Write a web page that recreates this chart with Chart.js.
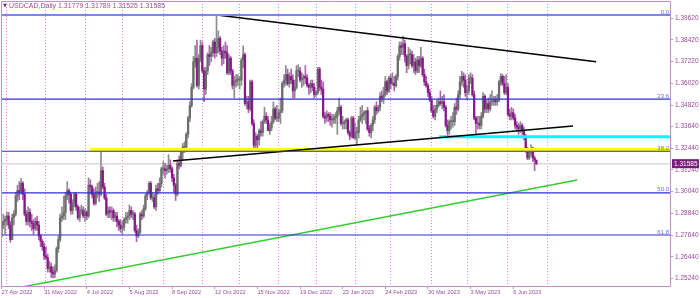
<!DOCTYPE html>
<html><head><meta charset="utf-8">
<script src="https://cdn.jsdelivr.net/npm/chart.js@4/dist/chart.umd.min.js"></script>
<style>html,body{margin:0;padding:0;background:#fff;overflow:hidden}#wrap{width:700px;height:298px;position:relative}</style>
</head><body><div id="wrap"><canvas id="c" width="700" height="298"></canvas></div>
<script>
const symbolName = 'USDCAD,Daily';
const openP = [
1.2760,1.2820,1.2840,1.2850,1.2870,1.2820,1.2740,1.2860,1.2880,1.2980,
1.3010,1.3000,1.3050,1.2990,1.2880,1.2840,1.2890,1.2840,1.2830,1.2800,
1.2840,1.2820,1.2760,1.2730,1.2700,1.2650,1.2640,1.2580,1.2590,1.2560,
1.2550,1.2570,1.2690,1.2740,1.2860,1.2870,1.2890,1.2980,1.3010,1.2990,
1.2900,1.2940,1.2990,1.2920,1.2860,1.2900,1.2900,1.2870,1.2890,1.2870,
1.3040,1.3030,1.2990,1.2940,1.3000,1.3000,1.2990,1.3120,1.3030,1.2970,
1.2880,1.2900,1.2890,1.2900,1.2860,1.2870,1.2840,1.2820,1.2800,1.2810,
1.2850,1.2860,1.2870,1.2900,1.2880,1.2880,1.2790,1.2760,1.2780,1.2880,
1.2870,1.2910,1.2980,1.3000,1.3050,1.2970,1.2970,1.2920,1.3020,1.3010,
1.3050,1.3130,1.3130,1.3120,1.3130,1.3150,1.3130,1.3080,1.3040,1.2990,
1.3160,1.3150,1.3220,1.3250,1.3250,1.3320,1.3410,1.3480,1.3580,1.3720,
1.3740,1.3590,1.3740,1.3810,1.3670,1.3570,1.3670,1.3760,1.3750,1.3770,
1.3830,1.3770,1.3800,1.3850,1.3780,1.3740,1.3780,1.3770,1.3660,1.3740,
1.3670,1.3590,1.3610,1.3620,1.3620,1.3620,1.3730,1.3760,1.3490,1.3500,
1.3460,1.3610,1.3380,1.3260,1.3310,1.3290,1.3340,1.3330,1.3390,1.3420,
1.3400,1.3340,1.3360,1.3390,1.3460,1.3410,1.3410,1.3440,1.3450,1.3600,
1.3620,1.3650,1.3600,1.3640,1.3620,1.3560,1.3580,1.3670,1.3670,1.3620,
1.3630,1.3640,1.3630,1.3590,1.3580,1.3600,1.3580,1.3540,1.3550,1.3680,
1.3580,1.3570,1.3420,1.3410,1.3430,1.3420,1.3400,1.3400,1.3410,1.3420,
1.3450,1.3470,1.3380,1.3380,1.3390,1.3400,1.3330,1.3310,1.3410,1.3300,
1.3330,1.3330,1.3400,1.3420,1.3430,1.3440,1.3450,1.3350,1.3330,1.3370,
1.3400,1.3470,1.3450,1.3470,1.3530,1.3520,1.3540,1.3610,1.3560,1.3630,
1.3600,1.3600,1.3590,1.3640,1.3750,1.3810,1.3800,1.3820,1.3750,1.3700,
1.3760,1.3760,1.3700,1.3720,1.3670,1.3730,1.3700,1.3740,1.3650,1.3610,
1.3590,1.3550,1.3510,1.3450,1.3420,1.3460,1.3480,1.3500,1.3490,1.3500,
1.3470,1.3370,1.3340,1.3390,1.3390,1.3390,1.3470,1.3460,1.3540,1.3610,
1.3640,1.3620,1.3550,1.3560,1.3630,1.3630,1.3540,1.3410,1.3380,1.3380,
1.3370,1.3420,1.3530,1.3460,1.3490,1.3460,1.3500,1.3500,1.3510,1.3500,
1.3510,1.3610,1.3640,1.3600,1.3550,1.3580,1.3430,1.3420,1.3440,1.3410,
1.3370,1.3360,1.3350,1.3370,1.3340,1.3310,1.3240,1.3190,1.3220,1.3240,
1.3190,1.31779];
const highP = [
1.2840,1.2880,1.2870,1.2890,1.2890,1.2840,1.2880,1.2900,1.3000,1.3040,
1.3060,1.3077,1.3060,1.3020,1.2900,1.2920,1.2910,1.2880,1.2850,1.2860,
1.2870,1.2840,1.2770,1.2740,1.2720,1.2700,1.2660,1.2620,1.2610,1.2590,
1.2600,1.2700,1.2760,1.2880,1.2920,1.2980,1.3000,1.3060,1.3020,1.3000,
1.2960,1.3000,1.3000,1.2930,1.2920,1.2930,1.2920,1.2910,1.2900,1.3080,
1.3070,1.3040,1.3020,1.3030,1.3050,1.3060,1.3224,1.3140,1.3050,1.2990,
1.2920,1.2920,1.2920,1.2910,1.2890,1.2890,1.2850,1.2850,1.2840,1.2860,
1.2890,1.2890,1.2930,1.2920,1.2900,1.2890,1.2820,1.2800,1.2890,1.2900,
1.2930,1.2990,1.3010,1.3060,1.3060,1.3000,1.2990,1.3040,1.3050,1.3080,
1.3140,1.3170,1.3160,1.3150,1.3208,1.3180,1.3140,1.3100,1.3050,1.3180,
1.3200,1.3230,1.3270,1.3280,1.3330,1.3420,1.3500,1.3600,1.3750,1.3810,
1.3840,1.3760,1.3840,1.3830,1.3690,1.3690,1.3770,1.3810,1.3800,1.3840,
1.3850,1.3977,1.3890,1.3860,1.3800,1.3810,1.3830,1.3810,1.3760,1.3750,
1.3680,1.3640,1.3650,1.3650,1.3640,1.3740,1.3808,1.3770,1.3530,1.3530,
1.3620,1.3620,1.3400,1.3330,1.3320,1.3350,1.3390,1.3400,1.3470,1.3440,
1.3420,1.3380,1.3420,1.3500,1.3470,1.3480,1.3460,1.3520,1.3610,1.3650,
1.3700,1.3680,1.3660,1.3680,1.3650,1.3620,1.3700,1.3705,1.3690,1.3660,
1.3650,1.3700,1.3650,1.3600,1.3620,1.3620,1.3600,1.3560,1.3690,1.3690,
1.3620,1.3610,1.3440,1.3450,1.3440,1.3440,1.3430,1.3430,1.3440,1.3470,
1.3520,1.3480,1.3420,1.3400,1.3410,1.3410,1.3340,1.3420,1.3420,1.3380,
1.3360,1.3420,1.3470,1.3480,1.3450,1.3450,1.3470,1.3370,1.3380,1.3420,
1.3480,1.3500,1.3480,1.3550,1.3560,1.3580,1.3640,1.3620,1.3640,1.3650,
1.3660,1.3640,1.3650,1.3760,1.3830,1.3830,1.3862,1.3840,1.3760,1.3800,
1.3790,1.3780,1.3760,1.3740,1.3750,1.3750,1.3800,1.3750,1.3680,1.3640,
1.3600,1.3570,1.3530,1.3480,1.3480,1.3510,1.3520,1.3560,1.3530,1.3540,
1.3480,1.3400,1.3400,1.3420,1.3440,1.3490,1.3520,1.3560,1.3640,1.3668,
1.3660,1.3650,1.3590,1.3650,1.3660,1.3650,1.3560,1.3420,1.3420,1.3420,
1.3440,1.3550,1.3540,1.3510,1.3520,1.3540,1.3560,1.3530,1.3530,1.3540,
1.3620,1.3655,1.3650,1.3640,1.3650,1.3600,1.3460,1.3470,1.3460,1.3430,
1.3390,1.3380,1.3390,1.3380,1.3360,1.3320,1.3250,1.3240,1.3262,1.3250,
1.3200,1.31789];
const lowP = [
1.2750,1.2800,1.2770,1.2820,1.2800,1.2725,1.2740,1.2820,1.2870,1.2950,
1.2960,1.2990,1.2960,1.2870,1.2820,1.2820,1.2810,1.2790,1.2770,1.2790,
1.2790,1.2740,1.2700,1.2680,1.2630,1.2630,1.2560,1.2560,1.2530,1.2528,
1.2530,1.2560,1.2670,1.2730,1.2840,1.2850,1.2850,1.2960,1.2940,1.2880,
1.2880,1.2920,1.2900,1.2850,1.2840,1.2880,1.2860,1.2840,1.2850,1.2860,
1.2990,1.2970,1.2930,1.2930,1.2970,1.2950,1.2980,1.3020,1.2960,1.2870,
1.2860,1.2860,1.2850,1.2840,1.2840,1.2810,1.2790,1.2780,1.2770,1.2790,
1.2830,1.2830,1.2850,1.2860,1.2850,1.2780,1.2728,1.2750,1.2770,1.2850,
1.2860,1.2900,1.2960,1.2990,1.2960,1.2950,1.2910,1.2900,1.2990,1.3000,
1.3030,1.3100,1.3080,1.3100,1.3110,1.3110,1.3060,1.3000,1.2955,1.2980,
1.3130,1.3140,1.3180,1.3220,1.3240,1.3300,1.3390,1.3470,1.3570,1.3690,
1.3580,1.3570,1.3720,1.3660,1.3500,1.3540,1.3650,1.3700,1.3720,1.3750,
1.3740,1.3750,1.3770,1.3760,1.3700,1.3710,1.3740,1.3650,1.3650,1.3650,
1.3570,1.3520,1.3580,1.3590,1.3570,1.3590,1.3690,1.3480,1.3460,1.3440,
1.3450,1.3370,1.3230,1.3240,1.3225,1.3260,1.3310,1.3310,1.3380,1.3380,
1.3340,1.3320,1.3340,1.3380,1.3400,1.3390,1.3390,1.3380,1.3440,1.3580,
1.3590,1.3590,1.3580,1.3600,1.3520,1.3520,1.3570,1.3640,1.3610,1.3580,
1.3590,1.3600,1.3580,1.3540,1.3550,1.3560,1.3520,1.3530,1.3540,1.3560,
1.3540,1.3410,1.3380,1.3390,1.3390,1.3370,1.3360,1.3380,1.3380,1.3320,
1.3430,1.3370,1.3350,1.3350,1.3350,1.3320,1.3290,1.3300,1.3300,1.3290,
1.3262,1.3300,1.3390,1.3380,1.3400,1.3380,1.3340,1.3310,1.3300,1.3340,
1.3380,1.3430,1.3440,1.3450,1.3500,1.3490,1.3530,1.3540,1.3550,1.3570,
1.3590,1.3560,1.3580,1.3620,1.3730,1.3760,1.3760,1.3720,1.3660,1.3680,
1.3710,1.3690,1.3660,1.3650,1.3660,1.3660,1.3690,1.3640,1.3590,1.3580,
1.3530,1.3500,1.3440,1.3410,1.3400,1.3440,1.3470,1.3480,1.3460,1.3450,
1.3360,1.3300,1.3320,1.3350,1.3360,1.3370,1.3430,1.3450,1.3520,1.3590,
1.3580,1.3530,1.3510,1.3540,1.3600,1.3530,1.3400,1.3315,1.3350,1.3350,
1.3350,1.3410,1.3440,1.3440,1.3440,1.3450,1.3480,1.3480,1.3480,1.3480,
1.3500,1.3590,1.3590,1.3540,1.3540,1.3420,1.3400,1.3400,1.3400,1.3350,
1.3340,1.3320,1.3330,1.3320,1.3290,1.3220,1.3180,1.3180,1.3200,1.3170,
1.3120,1.31525];
const closeP = [
1.2820,1.2840,1.2850,1.2870,1.2820,1.2740,1.2860,1.2880,1.2980,1.3010,
1.3000,1.3050,1.2990,1.2880,1.2840,1.2890,1.2840,1.2830,1.2800,1.2840,
1.2820,1.2760,1.2730,1.2700,1.2650,1.2640,1.2580,1.2590,1.2560,1.2550,
1.2570,1.2690,1.2740,1.2860,1.2870,1.2890,1.2980,1.3010,1.2990,1.2900,
1.2940,1.2990,1.2920,1.2860,1.2900,1.2900,1.2870,1.2890,1.2870,1.3040,
1.3030,1.2990,1.2940,1.3000,1.3000,1.2990,1.3120,1.3030,1.2970,1.2880,
1.2900,1.2890,1.2900,1.2860,1.2870,1.2840,1.2820,1.2800,1.2810,1.2850,
1.2860,1.2870,1.2900,1.2880,1.2880,1.2790,1.2760,1.2780,1.2880,1.2870,
1.2910,1.2980,1.3000,1.3050,1.2970,1.2970,1.2920,1.3020,1.3010,1.3050,
1.3130,1.3130,1.3120,1.3130,1.3150,1.3130,1.3080,1.3040,1.2990,1.3160,
1.3150,1.3220,1.3250,1.3250,1.3320,1.3410,1.3480,1.3580,1.3720,1.3740,
1.3590,1.3740,1.3810,1.3670,1.3570,1.3670,1.3760,1.3750,1.3770,1.3830,
1.3770,1.3800,1.3850,1.3780,1.3740,1.3780,1.3770,1.3660,1.3740,1.3670,
1.3590,1.3610,1.3620,1.3620,1.3620,1.3730,1.3760,1.3490,1.3500,1.3460,
1.3610,1.3380,1.3260,1.3310,1.3290,1.3340,1.3330,1.3390,1.3420,1.3400,
1.3340,1.3360,1.3390,1.3460,1.3410,1.3410,1.3440,1.3450,1.3600,1.3620,
1.3650,1.3600,1.3640,1.3620,1.3560,1.3580,1.3670,1.3670,1.3620,1.3630,
1.3640,1.3630,1.3590,1.3580,1.3600,1.3580,1.3540,1.3550,1.3680,1.3580,
1.3570,1.3420,1.3410,1.3430,1.3420,1.3400,1.3400,1.3410,1.3420,1.3450,
1.3470,1.3380,1.3380,1.3390,1.3400,1.3330,1.3310,1.3410,1.3300,1.3330,
1.3330,1.3400,1.3420,1.3430,1.3440,1.3450,1.3350,1.3330,1.3370,1.3400,
1.3470,1.3450,1.3470,1.3530,1.3520,1.3540,1.3610,1.3560,1.3630,1.3600,
1.3600,1.3590,1.3640,1.3750,1.3810,1.3800,1.3820,1.3750,1.3700,1.3760,
1.3760,1.3700,1.3720,1.3670,1.3730,1.3700,1.3740,1.3650,1.3610,1.3590,
1.3550,1.3510,1.3450,1.3420,1.3460,1.3480,1.3500,1.3490,1.3500,1.3470,
1.3370,1.3340,1.3390,1.3390,1.3390,1.3470,1.3460,1.3540,1.3610,1.3640,
1.3620,1.3550,1.3560,1.3630,1.3630,1.3540,1.3410,1.3380,1.3380,1.3370,
1.3420,1.3530,1.3460,1.3490,1.3460,1.3500,1.3500,1.3510,1.3500,1.3510,
1.3610,1.3640,1.3600,1.3550,1.3580,1.3430,1.3420,1.3440,1.3410,1.3370,
1.3360,1.3350,1.3370,1.3340,1.3310,1.3240,1.3190,1.3220,1.3240,1.3190,
1.3178,1.31585];

const dateTickIdx = [0,24,48,72,96,120,144,168,192,216,240,264,288];
const dateTickLabels = ['27 Apr 2022','31 May 2022','4 Jul 2022','5 Aug 2022','8 Sep 2022','12 Oct 2022','15 Nov 2022','19 Dec 2022','23 Jan 2023','24 Feb 2023','30 Mar 2023','3 May 2023','6 Jun 2023'];
const monthGridIdx = [3,25,47,68,91,113,134,156,177,199,219,242,262,285,307];
const priceTicks = [1.39620,1.38420,1.37220,1.36020,1.34820,1.33640,1.32440,1.31240,1.30040,1.28840,1.27640,1.26440,1.25240];
const fibLevels = [1.3978,1.3515,1.3227,1.2997,1.2765];
const fibLabels = ['0.0','23.6','38.2','50.0','61.8'];
const upperTrend = [[121.3,1.3978],[334.6,1.3721]];
const lowerTrend = [[96.5,1.3173],[321.6,1.3366]];
const greenTrend = [[11.5,1.2478],[323.9,1.3068]];
const yellowLevel = {from:49.8, price:1.3234};
const cyanLevel = {from:246.2, price:1.3307};

const XMIN = -0.28, XMAX = 376.2, YMIN = 1.24837, YMAX = 1.40558;
const n = closeP.length;
const last = n - 1;
const isUp = closeP.map((c,i)=> c >= openP[i]);

const wickData = closeP.map((c,i)=>({x:i, y:[lowP[i], highP[i]]}));
const bodyData = closeP.map((c,i)=>({x:i, y:[openP[i], c]}));

function hline(v, from){ return [{x: from===undefined?XMIN:from, y:v},{x:XMAX, y:v}]; }
function seg(p){ return [{x:p[0][0], y:p[0][1]},{x:p[1][0], y:p[1][1]}]; }

const lineBase = {type:'line', pointRadius:0, fill:false, tension:0, borderJoinStyle:'miter'};
const datasets = [];
fibLevels.forEach((v,i)=>{
  datasets.push(Object.assign({}, lineBase, {data:hline(v), borderColor: i===0?'#7b86f0':'#2f2fd6', borderWidth: i===0?2:1.2, order:1}));
});
datasets.push(Object.assign({}, lineBase, {data:seg(upperTrend), borderColor:'#000', borderWidth:1.5, order:2}));
datasets.push(Object.assign({}, lineBase, {data:seg(lowerTrend), borderColor:'#000', borderWidth:1.5, order:2}));
datasets.push(Object.assign({}, lineBase, {data:seg(greenTrend), borderColor:'#33cc33', borderWidth:1.5, order:2}));
datasets.push(Object.assign({}, lineBase, {data:hline(yellowLevel.price, yellowLevel.from), borderColor:'#ffff00', borderWidth:4, order:3}));
datasets.push(Object.assign({}, lineBase, {data:hline(cyanLevel.price, cyanLevel.from), borderColor:'#00ffff', borderWidth:3, order:3}));
datasets.push({type:'bar', data:bodyData, backgroundColor:isUp.map(u=>u?'#6c6c6c':'#86188a'), barThickness:1.6, grouped:false, minBarLength:1, borderWidth:0, order:10});
datasets.push({type:'bar', data:wickData, backgroundColor:isUp.map(u=>u?'#8c8c8c':'#b45eb4'), barThickness:1, grouped:false, borderWidth:0, order:11});
datasets.push(Object.assign({}, lineBase, {data:hline(closeP[last]), borderColor:'#d9d9d9', borderWidth:1.5, order:20}));

const FONT = 'Liberation Sans';
const TXT = '#9a4a9a';
const AXC = '#c48ec4';

function zeroPad(s){ s.paddingTop=0; s.paddingBottom=0; s.paddingLeft=0; s.paddingRight=0; }

const overlay = {
  id:'overlay',
  afterDraw(chart){
    const {ctx, chartArea:a, scales:{y}} = chart;
    ctx.save();
    ctx.strokeStyle = AXC; ctx.lineWidth = 1;
    ctx.beginPath();
    ctx.moveTo(a.left+0.5, a.bottom); ctx.lineTo(a.left+0.5, a.top+0.5); ctx.lineTo(a.right, a.top+0.5);
    ctx.stroke();
    ctx.fillStyle = '#7d2a7d';
    ctx.textBaseline = 'middle';
    ctx.font = '5px "DejaVu Sans"';
    ctx.fillText('\u25BC', 3, 6);
    ctx.fillStyle = TXT;
    ctx.font = '7px "' + FONT + '"';
    const title = symbolName + ' ' + [openP[last], highP[last], lowP[last], closeP[last]].map(v=>v.toFixed(5)).join(' ');
    ctx.fillText(title, 9, 6);
    ctx.font = '6px "' + FONT + '"';
    ctx.textAlign = 'right';
    ctx.textBaseline = 'alphabetic';
    ctx.fillStyle = '#6a6af0';
    fibLevels.forEach((v,i)=> ctx.fillText(fibLabels[i], a.right-1, y.getPixelForValue(v)-1.5));
    const py = y.getPixelForValue(closeP[last]);
    ctx.fillStyle = '#7b1b7b';
    ctx.fillRect(a.right+2, py-4.5, 27, 9);
    ctx.fillStyle = '#fff';
    ctx.textAlign = 'left';
    ctx.textBaseline = 'middle';
    ctx.font = '6.5px "' + FONT + '"';
    ctx.fillText(closeP[last].toFixed(5), a.right+4, py+0.5);
    ctx.restore();
  }
};

new Chart(document.getElementById('c'), {
  type:'bar',
  data:{datasets},
  plugins:[overlay],
  options:{
    responsive:false, devicePixelRatio:1, animation:false, events:[],
    layout:{padding:{left:1, top:1, right:0, bottom:0}},
    plugins:{legend:{display:false}, tooltip:{enabled:false}, title:{display:false}},
    scales:{
      x:{type:'linear', position:'bottom', min:XMIN, max:XMAX, offset:false,
        afterBuildTicks:s=>{ s.ticks = dateTickIdx.map(v=>({value:v})); },
        ticks:{autoSkip:false, maxRotation:0, minRotation:0, align:'start', padding:0, color:TXT,
          font:{family:FONT, size:5.7}, callback:(v,i)=>dateTickLabels[i]},
        grid:{offset:false, drawOnChartArea:false, tickLength:3, color:AXC, tickColor:AXC},
        border:{color:AXC, width:1},
        afterFit:s=>{ s.height = 12; zeroPad(s); }
      },
      xg:{type:'linear', position:'top', min:XMIN, max:XMAX, offset:false,
        afterBuildTicks:s=>{ s.ticks = monthGridIdx.map(v=>({value:v})); },
        ticks:{display:false},
        grid:{offset:false, drawTicks:false, color:'#dc8adc', lineWidth:1},
        border:{display:false, dash:[1,2]},
        afterFit:s=>{ s.height = 0; zeroPad(s); }
      },
      y:{type:'linear', position:'right', min:YMIN, max:YMAX, beginAtZero:false,
        afterBuildTicks:s=>{ s.ticks = priceTicks.map(v=>({value:v})); },
        ticks:{autoSkip:false, padding:2, color:TXT, font:{family:FONT, size:6.5}, callback:v=>v.toFixed(5)},
        grid:{drawOnChartArea:false, tickLength:3, color:AXC, tickColor:AXC},
        border:{color:AXC, width:1},
        afterFit:s=>{ s.width = 30; zeroPad(s); }
      }
    }
  }
});
</script>
</body></html>
